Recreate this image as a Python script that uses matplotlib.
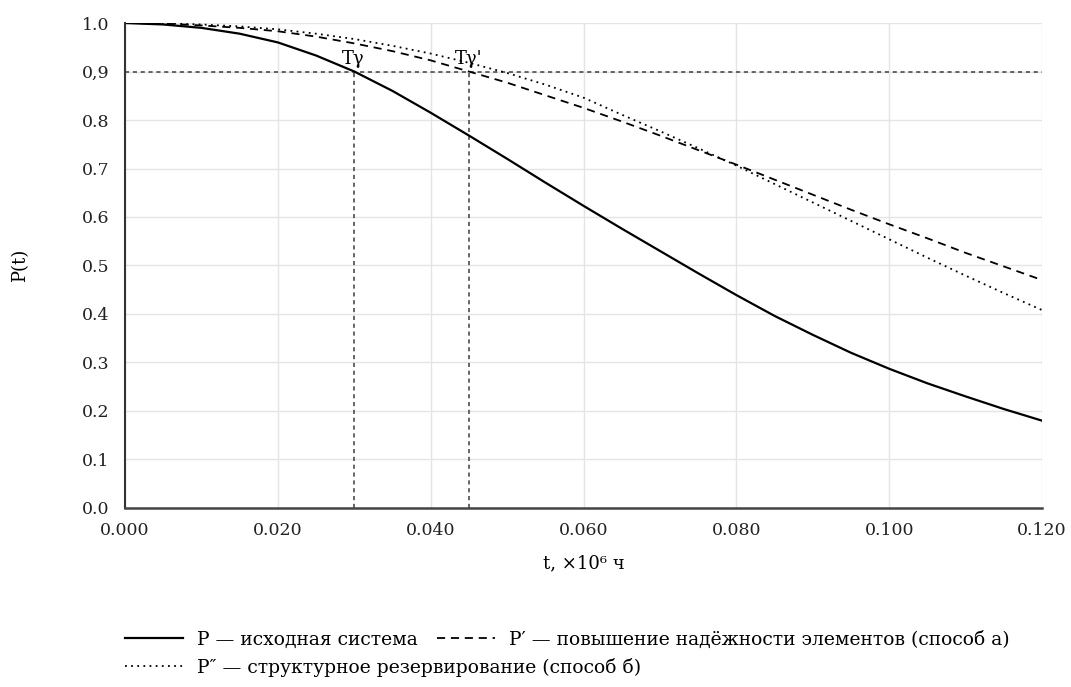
import matplotlib
matplotlib.use("Agg")
import matplotlib.pyplot as plt

plt.rcParams['font.family'] = ['DejaVu Serif', 'DejaVu Sans']

# значения
t_vals = [0.000, 0.005, 0.010, 0.015, 0.020, 0.025, 0.030, 0.035, 0.040,
          0.045, 0.050, 0.055, 0.060, 0.065, 0.070, 0.075, 0.080, 0.085,
          0.090, 0.095, 0.100, 0.105, 0.110, 0.115, 0.120]
p_base = [1.000, 0.997, 0.990, 0.978, 0.960, 0.933, 0.900, 0.860, 0.815,
          0.768, 0.720, 0.671, 0.623, 0.576, 0.530, 0.484, 0.439, 0.396,
          0.357, 0.320, 0.287, 0.257, 0.230, 0.204, 0.180]
p_elem = [1.000, 0.999, 0.995, 0.990, 0.983, 0.972, 0.958, 0.942, 0.923,
          0.900, 0.877, 0.851, 0.825, 0.797, 0.768, 0.738, 0.708, 0.677,
          0.646, 0.615, 0.585, 0.556, 0.526, 0.498, 0.470]
p_struct = [1.000, 0.9995, 0.997, 0.993, 0.987, 0.978, 0.967, 0.953, 0.937,
            0.918, 0.897, 0.873, 0.846, 0.811, 0.777, 0.742, 0.706, 0.668,
            0.630, 0.592, 0.554, 0.516, 0.479, 0.443, 0.408]

level = 0.9
t_gamma = 0.030
t_gamma2 = 0.045

x_ticks = [0.000, 0.020, 0.040, 0.060, 0.080, 0.100, 0.120]
x_labels = ['0.000', '0.020', '0.040', '0.060', '0.080', '0.100', '0.120']
y_ticks = [0.0, 0.1, 0.2, 0.3, 0.4, 0.5, 0.6, 0.7, 0.8, 0.9, 1.0]
y_labels = ['0.0', '0.1', '0.2', '0.3', '0.4', '0.5', '0.6', '0.7', '0.8', '0,9', '1.0']

FS = 12.5

fig = plt.figure(figsize=(10.71, 6.87), dpi=100)
ax = fig.add_axes([0.1167, 0.2606, 0.8563, 0.7059])

ax.grid(True, color='#e4e4e4', linewidth=1.0)
ax.set_axisbelow(True)

# вспомогательные линии уровня 0,9
ref_kw = dict(color='#4d4d4d', linewidth=1.2, dashes=(2.5, 2.2))
ax.plot([0, 0.12], [level, level], **ref_kw)
ax.plot([t_gamma, t_gamma], [0, level], **ref_kw)
ax.plot([t_gamma2, t_gamma2], [0, level], **ref_kw)

l1, = ax.plot(t_vals, p_base, color='black', linewidth=1.6,
              label='P — исходная система')
l2, = ax.plot(t_vals, p_elem, color='black', linewidth=1.3, dashes=(4.5, 3.2),
              label='P′ — повышение надёжности элементов (способ а)')
l3, = ax.plot(t_vals, p_struct, color='black', linewidth=1.3, dashes=(1, 2.4),
              label='P″ — структурное резервирование (способ б)')

ax.text(t_gamma - 0.0002, level + 0.007, 'Tγ', ha='center', va='bottom', fontsize=13)
ax.text(t_gamma2, level + 0.007, "Tγ'", ha='center', va='bottom', fontsize=13)

ax.set_xlim(0, 0.12)
ax.set_ylim(0, 1.0)
ax.set_xticks(x_ticks)
ax.set_xticklabels(x_labels)
ax.set_yticks(y_ticks)
ax.set_yticklabels(y_labels)
ax.tick_params(length=0, labelsize=FS, colors='#222222')
ax.tick_params(axis='x', pad=10)
ax.tick_params(axis='y', pad=11)

for side in ['top', 'right']:
    ax.spines[side].set_visible(False)
ax.spines['left'].set_color('#333333')
ax.spines['left'].set_linewidth(1.5)
ax.spines['bottom'].set_color('#444444')
ax.spines['bottom'].set_linewidth(1.8)

ax.set_xlabel('t, ×10⁶ ч', fontsize=13, labelpad=11)
ax.set_ylabel('P(t)', fontsize=13, labelpad=38)

leg_kw = dict(frameon=False, loc='center left', fontsize=13.5,
              handlelength=3.1, handletextpad=0.75, borderaxespad=0)
fig.legend(handles=[l1, l2], ncol=2, columnspacing=1.0,
           bbox_to_anchor=(0.110, 0.0684), **leg_kw)
fig.legend(handles=[l3], bbox_to_anchor=(0.110, 0.0291), **leg_kw)

fig.savefig('out.png', dpi=100)
